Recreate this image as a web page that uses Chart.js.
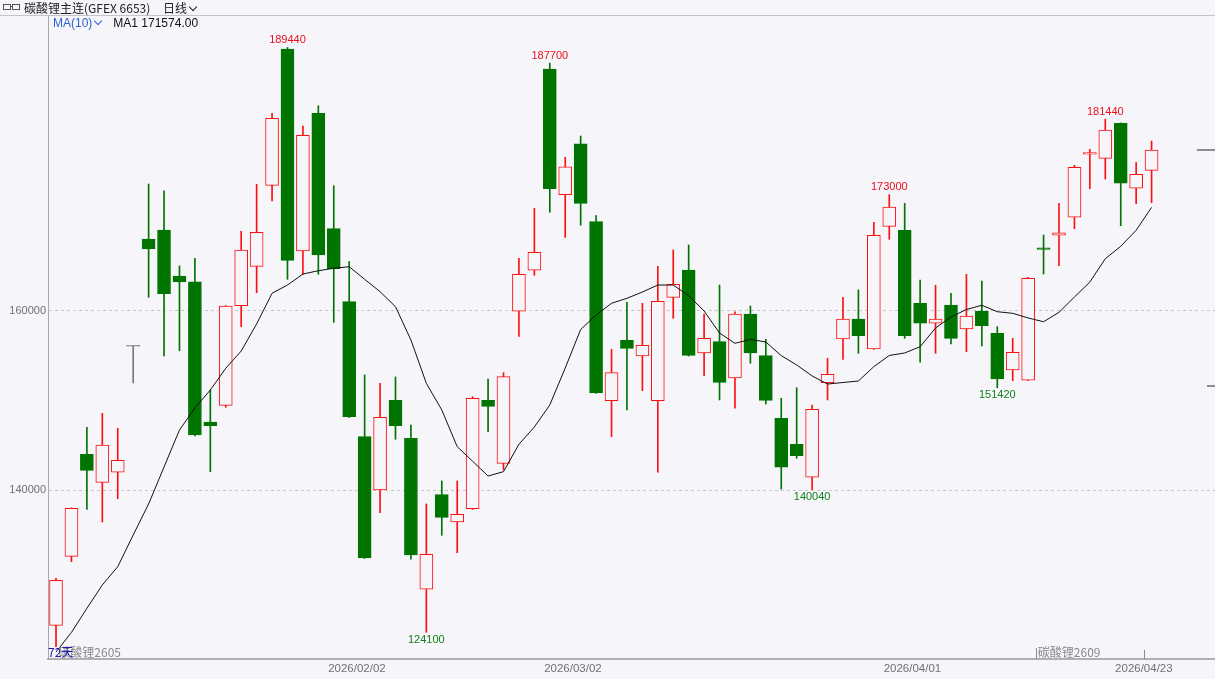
<!DOCTYPE html>
<html><head><meta charset="utf-8">
<script src="https://cdn.jsdelivr.net/npm/chart.js@4.4.1/dist/chart.umd.min.js"></script>
<style>
html,body{margin:0;padding:0;background:#f5f5fa;width:1215px;height:679px;overflow:hidden;}
#c{position:absolute;left:0;top:0;}
#hdr{position:absolute;left:0;top:0;width:1215px;height:15px;border-bottom:1px solid #c4c4c8;font:12px "Noto Sans CJK SC","Liberation Sans",sans-serif;line-height:15px;color:#222;white-space:nowrap;}
#hdr .ico{position:absolute;left:3px;top:4px;width:16px;height:6px;}
#hdr .ico i{position:absolute;top:0;width:6px;height:4px;border:1px solid #555;}
#hdr .ico b{position:absolute;left:7px;top:2px;width:3px;height:1px;background:#555;}
#title{position:absolute;left:24px;top:0;}
#period{position:absolute;left:163px;top:0;}
.chev{display:inline-block;width:5px;height:5px;border-right:1.3px solid currentColor;border-bottom:1.3px solid currentColor;transform:rotate(45deg);margin-left:3px;position:relative;top:-3px;}
#marow{position:absolute;left:53px;top:16px;font:12px "Liberation Sans",Arial,sans-serif;line-height:15px;white-space:nowrap;}
#maname{color:#2f5fd0;}
#maval{color:#111;margin-left:12px;}
</style>
</head><body>
<canvas id="c" width="1215" height="679"></canvas>
<div id="hdr"><span class="ico"><i style="left:0"></i><b></b><i style="left:9px"></i></span><span id="title">碳酸锂主连(GFEX 6653)</span><span id="period">日线<span class="chev"></span></span></div>
<div id="marow"><span id="maname">MA(10)<span class="chev"></span></span><span id="maval"></span></div>
<script>
// ---- data ----
const opens  = [124880,132590,143990,140860,141980,156060,168040,169050,163910,163270,
                147600,149460,160590,164990,174040,189270,166700,182090,169200,161040,
                145960,140000,150020,145780,128910,139480,136430,137910,150020,142980,
                159970,164550,187040,172990,178690,169980,149980,156730,154970,149980,
                161530,164580,155310,156570,152510,159660,155010,148010,145110,141420,
                151990,156870,159110,155750,169460,169020,160860,158630,160670,157990,
                160000,157510,153410,152260,167070,168460,170470,177510,177060,180970,
                173710,175720];
const highs  = [130130,138000,147010,148570,146890,156060,174190,173440,165030,165890,
                151170,160610,168900,174160,182090,189440,180670,182940,174000,165530,
                152850,151920,152630,147260,138440,141010,141010,150420,152400,153110,
                165890,171470,187700,177170,179550,170650,155720,160970,160860,164990,
                166820,167370,159660,162900,159920,160560,156840,150250,151430,149500,
                154720,161530,162350,169910,173000,172030,163460,162870,161980,164100,
                163350,158250,156950,163770,168490,172030,176280,178070,181440,181010,
                176570,178990];
const lows   = [122490,131990,137840,136430,139030,151960,161530,154970,155560,146030,
                142050,149240,158250,162040,172290,163540,164100,164100,158740,148100,
                132350,137460,145670,132260,124100,134940,132990,137820,146510,142240,
                157150,163990,171030,168230,169580,150780,145960,148940,151100,141980,
                159180,154970,152770,150060,149130,154160,149610,140100,143540,140040,
                150060,154580,155270,155700,168010,156950,154270,155270,156310,155450,
                156090,151420,152210,152210,164130,165060,169200,173660,174750,169530,
                171990,172100];
const closes = [129910,137960,142200,145030,143320,156060,166930,161930,163240,146150,
                147180,160560,166820,168790,181530,165660,179630,166260,164730,148190,
                132400,148120,147180,132740,132820,136950,137290,150250,149350,152660,
                164100,166560,173660,176120,172030,150840,153110,155830,156170,161080,
                162980,155050,156950,152030,159660,155310,150020,142540,143830,149020,
                152930,159110,157240,168460,171620,157240,158630,159110,156950,159440,
                158360,152400,155390,163650,166890,168720,176060,177690,180220,174270,
                175270,177990];
const ma10   = [121900,124090,126780,129390,131430,134970,138440,142570,146700,149160,
                151170,153600,155530,158550,161980,162900,164130,164500,164770,164950,
                163540,162160,160480,156760,151920,148940,144840,143210,141560,142050,
                145110,147040,149500,153630,157930,159550,160860,161420,162120,162900,
                162900,161710,160000,157540,156390,156820,156540,155010,153970,152740,
                151840,152010,152180,153780,155030,155310,156010,158100,159330,160170,
                160640,159920,159740,159220,158800,159850,161560,163240,165840,167230,
                169020,171574];
const dateLabels = ['2026/02/02','2026/03/02','2026/04/01','2026/04/23'];
const dateIdx    = [20, 34, 56, 71];
const yTicks     = [140000, 160000];
const markHighIdx = [15, 32, 54, 68];
const markLowIdx  = [24, 49, 61];
const contractNames = ['碳酸锂2605', '碳酸锂2609'];
const contractStart = [0, 64];
const rightMarks = [177990, 151620];
const dayCount = '72天';

// ---- styles ----
const BG = '#f5f5fa', RED = '#ff1010', GREEN = '#007400', GRAY = '#7a7a7a';
const dir = opens.map((o,i)=> closes[i] > o ? 1 : (closes[i] < o ? -1 : 0));
const lineCol = dir.map(d => d > 0 ? RED : d < 0 ? GREEN : GRAY);
const fillCol = dir.map(d => d > 0 ? BG : d < 0 ? GREEN : GRAY);

document.getElementById('maval').textContent = 'MA1 ' + ma10[ma10.length-1].toFixed(2);

const overlay = {
  id: 'overlay',
  afterDatasetsDraw(chart) {
    const {ctx, scales:{x, y}, chartArea} = chart;
    ctx.save();
    ctx.font = '11px "Liberation Sans", Arial, sans-serif';
    ctx.textAlign = 'center';
    ctx.fillStyle = '#e8101c';
    ctx.textBaseline = 'bottom';
    markHighIdx.forEach(i => ctx.fillText(String(highs[i]), x.getPixelForValue(i), y.getPixelForValue(highs[i]) - 2));
    ctx.fillStyle = '#12801a';
    ctx.textBaseline = 'top';
    markLowIdx.forEach(i => ctx.fillText(String(lows[i]), x.getPixelForValue(i), y.getPixelForValue(lows[i]) + 2));
    // contract markers
    ctx.textAlign = 'left';
    ctx.textBaseline = 'bottom';
    ctx.font = '12px "Noto Sans CJK SC", sans-serif';
    contractNames.forEach((n, k) => {
      const bx = x.getPixelForValue(contractStart[k] - 0.5);
      ctx.fillStyle = '#8a8a8a';
      if (k > 0) {
        ctx.fillRect(Math.round(bx), chartArea.bottom - 11, 1, 11);
        ctx.fillText(n, bx + 2, chartArea.bottom - 1);
      } else {
        ctx.fillText(n, bx + 10, chartArea.bottom - 1);
      }
    });
    ctx.fillStyle = '#1a1aa8';
    ctx.fillText(dayCount, chartArea.left, chartArea.bottom - 1);
    // tick for last date label
    const lx = x.getPixelForValue(dateIdx[dateIdx.length-1] - 0.5);
    ctx.fillStyle = '#8a8a8a';
    ctx.fillRect(Math.round(lx), chartArea.bottom - 9, 1, 9);
    // right-edge price marks
    ctx.fillStyle = '#8c8c8c';
    ctx.fillRect(chartArea.right - 18, Math.round(y.getPixelForValue(rightMarks[0])) - 1, 18, 2);
    ctx.fillRect(chartArea.right - 8, Math.round(y.getPixelForValue(rightMarks[1])) - 1, 8, 2);
    ctx.restore();
  }
};

const idx = opens.map((_, i) => i);
new Chart(document.getElementById('c'), {
  type: 'bar',
  data: {
    datasets: [
      {
        type: 'line', order: 0,
        data: idx.map(i => ({x: i, y: ma10[i]})),
        borderColor: '#111', borderWidth: 1, pointRadius: 0, tension: 0, fill: false
      },
      {
        order: 1, grouped: false,
        data: idx.map(i => ({x: i, y: [Math.min(opens[i], closes[i]), Math.max(opens[i], closes[i])]})),
        backgroundColor: fillCol, borderColor: lineCol, borderWidth: 1, borderSkipped: false,
        barPercentage: 1, categoryPercentage: 1, maxBarThickness: 13, minBarLength: 1
      },
      {
        order: 2, grouped: false,
        data: idx.map(i => ({x: i, y: [lows[i], highs[i]]})),
        backgroundColor: lineCol, borderWidth: 0,
        barPercentage: 1, categoryPercentage: 1, maxBarThickness: 1
      }
    ]
  },
  options: {
    responsive: false, animation: false, devicePixelRatio: 1,
    layout: {padding: {top: 16, left: 0, right: 0, bottom: 0}},
    plugins: {legend: {display: false}, tooltip: {enabled: false}},
    scales: {
      x: {
        type: 'linear', min: -0.52, max: 75.11, offset: false,
        grid: {display: false, drawTicks: false},
        border: {display: true, color: '#b0b0b4', width: 2},
        afterFit: s => { s.height = 20; },
        afterBuildTicks: s => { s.ticks = dateIdx.map(i => ({value: i - 0.5})); },
        ticks: {
          autoSkip: false, maxRotation: 0, padding: 3, color: '#707070',
          font: {family: '"Liberation Sans", Arial, sans-serif', size: 11.5},
          callback: (v) => { const k = dateIdx.findIndex(i => Math.abs(i - 0.5 - v) < 1e-6); return k >= 0 ? dateLabels[k] : ''; }
        }
      },
      y: {
        position: 'left', min: 121118, max: 192960,
        afterFit: s => { s.width = 48; },
        afterBuildTicks: s => { s.ticks = yTicks.map(v => ({value: v})); },
        grid: {display: true, drawTicks: false, color: '#c8c8cc', lineWidth: 1},
        border: {display: true, color: '#a8a8ac', width: 1, dash: [3, 3]},
        ticks: {
          padding: 2, color: '#707070',
          font: {family: '"Liberation Sans", Arial, sans-serif', size: 11},
          callback: v => String(v)
        }
      }
    }
  },
  plugins: [overlay]
});
</script>
</body></html>
